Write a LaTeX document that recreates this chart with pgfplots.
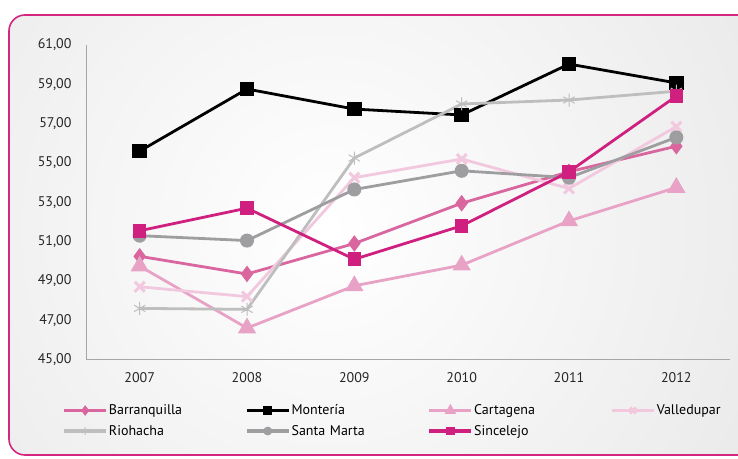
\documentclass[border=0pt]{standalone}
\usepackage{pgfplots}
\pgfplotsset{compat=1.18}
\usepackage{fontspec}
\setmainfont{PT Sans}
\definecolor{cbar}{RGB}{217,102,159}
\definecolor{ccar}{RGB}{232,162,198}
\definecolor{cval}{RGB}{242,200,222}
\definecolor{crio}{RGB}{190,190,190}
\definecolor{csm}{RGB}{158,158,160}
\definecolor{csin}{RGB}{207,32,128}
\definecolor{cframe}{RGB}{212,38,127}
\begin{document}
\begin{tikzpicture}[x=1pt,y=1pt]
\useasboundingbox (0,0) rectangle (738,458);
\begin{scope}
\clip (0,0) rectangle (738,458);
\begin{scope}
\clip[rounded corners=16pt] (9,3) rectangle (780,443);
\shade[inner color=white,outer color=black!12] (330,230) circle (700);
\end{scope}
\draw[cframe,line width=1.6pt,rounded corners=16pt] (9,3) rectangle (780,443);
\end{scope}
\begin{axis}[
  at={(86pt,98.5pt)}, anchor=south west,
  scale only axis, width=644pt, height=314.5pt,
  xmin=-0.5, xmax=5.5, ymin=45, ymax=61,
  xtick={0,1,2,3,4,5}, xticklabels={2007,2008,2009,2010,2011,2012},
  ytick={45,47,...,61},
  axis lines*=left,
  axis line style={black!35,line width=0.8pt,-},
  major tick length=0pt,
  tick label style={font=\fontsize{14}{16}\selectfont, text=black!85},
  yticklabel style={xshift=-11pt},
  xticklabel style={yshift=-9pt},
  /pgf/number format/.cd, fixed, fixed zerofill, precision=2, use comma, assume math mode=true,
  /pgfplots/.cd,
  every axis plot/.append style={line width=2.8pt},
  legend columns=4,
  legend style={at={(rel axis cs:-0.037,-0.14)}, anchor=north west, draw=none, fill=none,
    inner sep=0pt, font=\fontsize{14}{16}\selectfont, row sep=7pt,
    nodes={text width=135pt, align=left, inner sep=1pt}},
  legend cell align=left,
  legend image code/.code={\draw[line width=3.6pt,mark repeat=2,mark phase=2,/tikz/every mark/.append style={scale=0.6}] plot coordinates {(0pt,0pt) (21pt,0pt) (42pt,0pt)};},
]
\addplot[cbar, mark=diamond*, mark size=7.5pt, mark options={solid,line width=1pt}] coordinates {(0,50.25) (1,49.35) (2,50.9) (3,52.95) (4,54.55) (5,55.85)};
\addlegendentry{Barranquilla}
\addplot[black, mark=square*, mark size=6.8pt, mark options={line width=1pt}] coordinates {(0,55.6) (1,58.76) (2,57.74) (3,57.44) (4,60.03) (5,59.07)};
\addlegendentry{Montería}
\addplot[ccar, mark=triangle*, mark size=9.5pt, mark options={line width=1pt}] coordinates {(0,49.75) (1,46.6) (2,48.75) (3,49.8) (4,52.05) (5,53.75)};
\addlegendentry{Cartagena}
\addplot[cval, mark=x, mark size=7pt, mark options={line width=3pt}] coordinates {(0,48.7) (1,48.2) (2,54.25) (3,55.2) (4,53.7) (5,56.85)};
\addlegendentry{Valledupar}
\addplot[crio, mark=asterisk, mark size=6.5pt, mark options={line width=1pt}] coordinates {(0,47.6) (1,47.55) (2,55.25) (3,58.0) (4,58.2) (5,58.65)};
\addlegendentry{Riohacha}
\addplot[csm, mark=*, mark size=6.5pt, mark options={line width=1pt}] coordinates {(0,51.3) (1,51.05) (2,53.65) (3,54.6) (4,54.25) (5,56.3)};
\addlegendentry{Santa Marta}
\addplot[csin, mark=square*, mark size=6.3pt, mark options={line width=1pt}] coordinates {(0,51.55) (1,52.7) (2,50.1) (3,51.8) (4,54.55) (5,58.4)};
\addlegendentry{Sincelejo}
\end{axis}
\end{tikzpicture}
\end{document}
